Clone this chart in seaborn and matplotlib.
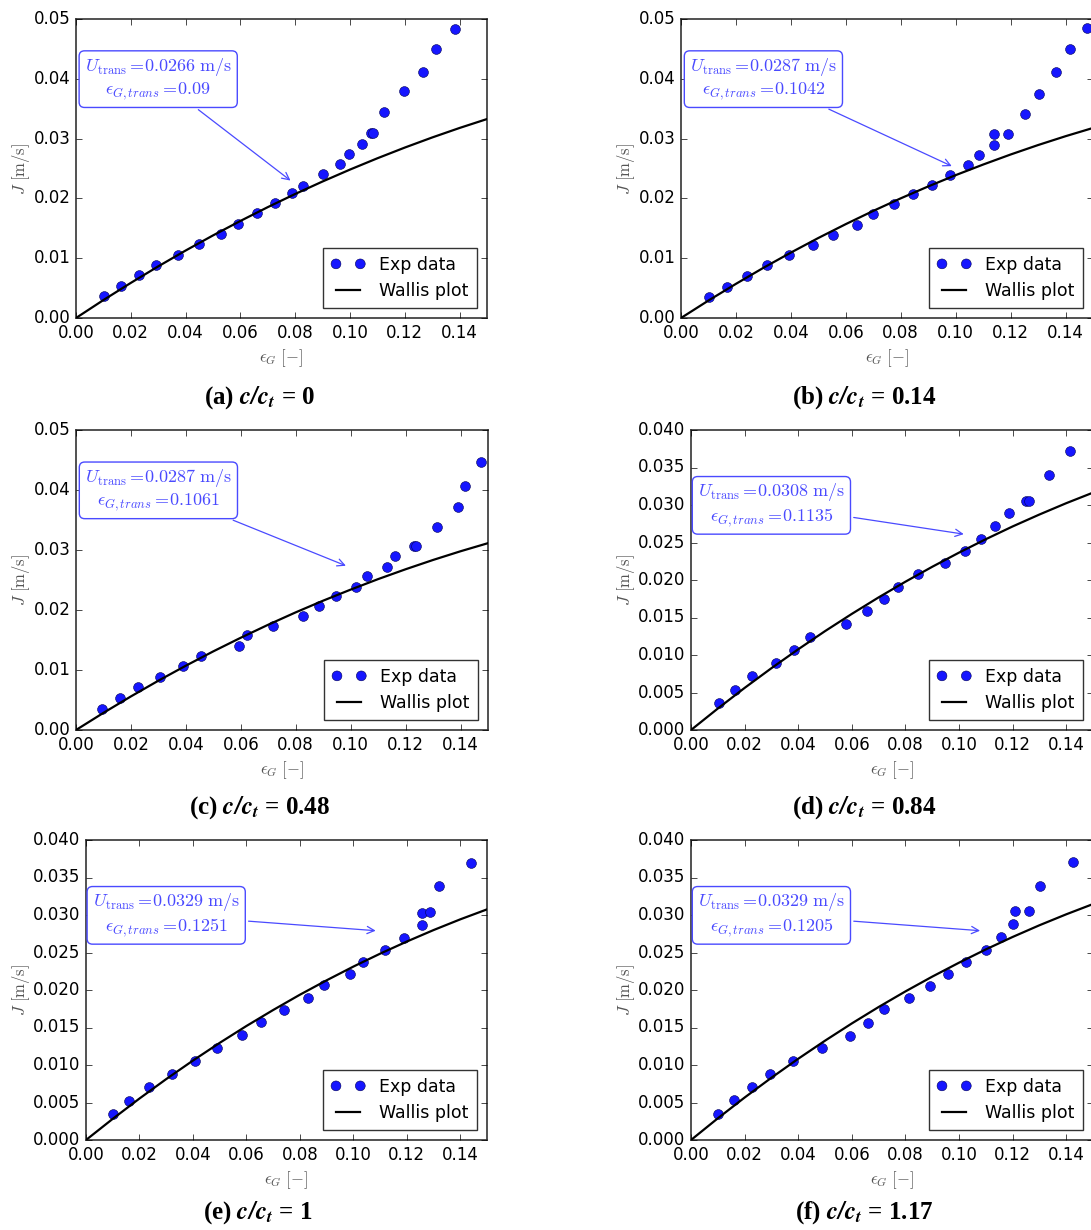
import numpy as np
import pandas as pd
import matplotlib
matplotlib.use("Agg")
import matplotlib.pyplot as plt
import seaborn as sns

plt.style.use("classic")
plt.rcParams["mathtext.fontset"] = "cm"
plt.rcParams["font.family"] = ["DejaVu Sans"]

# ---------------- data ----------------
panel_ids = ["a", "b", "c", "d", "e", "f"]
ratios = ["0", "0.14", "0.48", "0.84", "1", "1.17"]
u_trans = ["0.0266", "0.0287", "0.0287", "0.0308", "0.0329", "0.0329"]
eps_trans = ["0.09", "0.1042", "0.1061", "0.1135", "0.1251", "0.1205"]

eps_a = [0.0102, 0.0164, 0.0230, 0.0291, 0.0374, 0.0450, 0.0531, 0.0593, 0.0660, 0.0727,
         0.0790, 0.0830, 0.0901, 0.0963, 0.0996, 0.1045, 0.1076, 0.1083, 0.1124, 0.1196,
         0.1266, 0.1315, 0.1382]
j_a = [0.00362, 0.0054, 0.00718, 0.00885, 0.01058, 0.01236, 0.01403, 0.0157, 0.01754, 0.01927,
       0.02088, 0.02205, 0.02416, 0.02572, 0.02745, 0.02912, 0.0309, 0.0309, 0.0344, 0.0380,
       0.0412, 0.0449, 0.0483]

eps_b = [0.0102, 0.0166, 0.0242, 0.0313, 0.0393, 0.0481, 0.0553, 0.0639, 0.0698, 0.0776,
         0.0845, 0.0914, 0.0978, 0.1045, 0.1084, 0.1138, 0.1138, 0.1190, 0.1253, 0.1305,
         0.1367, 0.1418, 0.1479]
j_b = [0.00347, 0.00526, 0.00705, 0.00885, 0.01053, 0.0122, 0.01389, 0.01557, 0.01736, 0.01904,
       0.02066, 0.02223, 0.02396, 0.02553, 0.02727, 0.02895, 0.03074, 0.03074, 0.03415, 0.0374,
       0.04115, 0.0449, 0.0485]

eps_c = [0.0096, 0.0162, 0.0227, 0.0305, 0.0388, 0.0455, 0.0592, 0.0621, 0.0716, 0.0825,
         0.0885, 0.0947, 0.1021, 0.1060, 0.1134, 0.1163, 0.1229, 0.1239, 0.1315, 0.1391,
         0.1415, 0.1476]
j_c = [0.0035, 0.0054, 0.0071, 0.0089, 0.0106, 0.0124, 0.0140, 0.0159, 0.0174, 0.0190,
       0.0207, 0.0223, 0.0239, 0.0256, 0.0272, 0.0290, 0.0306, 0.0306, 0.0339, 0.0372,
       0.0407, 0.0446]

eps_d = [0.01055, 0.01649, 0.02294, 0.03154, 0.0384, 0.04444, 0.05786, 0.06584, 0.07219,
         0.07721, 0.08458, 0.09472, 0.1023, 0.10813, 0.11336, 0.11858, 0.12493, 0.12616,
         0.13373, 0.14131]
j_d = [0.00356, 0.00535, 0.00717, 0.00895, 0.01073, 0.01243, 0.01412, 0.01581, 0.01742, 0.01911,
       0.0208, 0.02223, 0.02388, 0.02552, 0.02726, 0.02895, 0.03056, 0.03056, 0.03394, 0.03724]

eps_e = [0.0101, 0.01625, 0.0236, 0.0321, 0.0408, 0.0491, 0.0585, 0.0653, 0.0740, 0.0831,
         0.0890, 0.0989, 0.1038, 0.1119, 0.1190, 0.1255, 0.1256, 0.1286, 0.1319, 0.1441]
j_e = [0.00352, 0.00526, 0.00704, 0.00886, 0.01051, 0.01229, 0.01399, 0.01568, 0.01733, 0.01893,
       0.02062, 0.02214, 0.02379, 0.0253, 0.02699, 0.02869, 0.03024, 0.03038, 0.03385, 0.03688]

eps_f = [0.0099, 0.01616, 0.0226, 0.02945, 0.0382, 0.0488, 0.0593, 0.0661, 0.0722, 0.0815,
         0.0892, 0.0959, 0.1027, 0.1101, 0.1156, 0.1203, 0.1210, 0.1260, 0.1301, 0.1424]
j_f = [0.00352, 0.0053, 0.00704, 0.00882, 0.0106, 0.01229, 0.0139, 0.01559, 0.01742, 0.01893,
       0.02049, 0.02214, 0.02379, 0.0253, 0.02704, 0.02878, 0.03047, 0.03047, 0.03385, 0.03702]

# Wallis curve read at eps = 0.00, 0.01, ..., 0.15
eps_wallis = [0.00, 0.01, 0.02, 0.03, 0.04, 0.05, 0.06, 0.07, 0.08, 0.09, 0.10, 0.11, 0.12,
              0.13, 0.14, 0.15]
wallis_a = [0.0, 0.00300, 0.00587, 0.00863, 0.01128, 0.01381, 0.01623, 0.01854, 0.02074,
            0.02283, 0.02482, 0.02671, 0.02850, 0.03019, 0.03178, 0.03327]
wallis_b = [0.0, 0.00292, 0.00571, 0.00839, 0.01094, 0.01338, 0.01570, 0.01791, 0.02001,
            0.02200, 0.02389, 0.02566, 0.02734, 0.02892, 0.03040, 0.03178]
wallis_c = [0.0, 0.00286, 0.00560, 0.00822, 0.01072, 0.01311, 0.01538, 0.01755, 0.01961,
            0.02156, 0.02340, 0.02515, 0.02679, 0.02834, 0.02979, 0.03114]
wallis_d = [0.0, 0.00286, 0.00561, 0.00824, 0.01076, 0.01318, 0.01548, 0.01768, 0.01977,
            0.02176, 0.02365, 0.02544, 0.02714, 0.02873, 0.03024, 0.03165]
wallis_e = [0.0, 0.00282, 0.00553, 0.00812, 0.01059, 0.01295, 0.01520, 0.01733, 0.01937,
            0.02129, 0.02312, 0.02484, 0.02646, 0.02799, 0.02942, 0.03075]
wallis_f = [0.0, 0.00289, 0.00566, 0.00830, 0.01083, 0.01324, 0.01554, 0.01773, 0.01981,
            0.02178, 0.02364, 0.02541, 0.02707, 0.02863, 0.03009, 0.03146]

# arrow tips (data coordinates)
arrow_x = [0.0791, 0.0995, 0.0992, 0.1028, 0.1094, 0.1089]
arrow_y = [0.0227, 0.0252, 0.0272, 0.02606, 0.02788, 0.02788]

x_ticks = [0.00, 0.02, 0.04, 0.06, 0.08, 0.10, 0.12, 0.14]
y_ticks_hi = [0.00, 0.01, 0.02, 0.03, 0.04, 0.05]
y_ticks_lo = [0.000, 0.005, 0.010, 0.015, 0.020, 0.025, 0.030, 0.035, 0.040]

exp_eps = [eps_a, eps_b, eps_c, eps_d, eps_e, eps_f]
exp_j = [j_a, j_b, j_c, j_d, j_e, j_f]
wallis = [wallis_a, wallis_b, wallis_c, wallis_d, wallis_e, wallis_f]

# ---------------- layout ----------------
W, H = 1091, 1230
fig = plt.figure(figsize=(W / 100, H / 100), dpi=100, facecolor="white")

# pixel boxes: left, top, right, bottom
boxes = [(76, 19, 487, 318), (681, 19, 1093, 318),
         (76, 430, 488, 730), (691, 430, 1093, 730),
         (86, 840, 487, 1140), (691, 840, 1093, 1140)]
text_pos = [(0.2, 0.80), (0.2, 0.80), (0.2, 0.80), (0.2, 0.75), (0.2, 0.75), (0.2, 0.75)]
caption_xy = [(260, 398), (864, 398), (260, 808), (864, 808), (258, 1213), (864, 1213)]

blue_dot = "#1616ff"
annot_blue = "#4a4aff"

for i in range(6):
    l, t, r, b = boxes[i]
    ax = fig.add_axes([l / W, 1 - b / H, (r - l) / W, (b - t) / H])
    ax.set_facecolor("white")

    df = pd.DataFrame({"eps": exp_eps[i], "J": exp_j[i]})
    dw = pd.DataFrame({"eps": eps_wallis, "J": wallis[i]})

    sns.scatterplot(data=df, x="eps", y="J", ax=ax, color=blue_dot, s=50,
                    edgecolor="#000055", linewidth=0.4, zorder=3, label="Exp data")
    sns.lineplot(data=dw, x="eps", y="J", ax=ax, color="black", linewidth=1.6,
                 zorder=4, label="Wallis plot", sort=False, estimator=None)

    ax.set_xlim(0, 0.15)
    ax.set_xticks(x_ticks)
    ax.set_xticklabels([f"{v:.2f}" for v in x_ticks])
    if i < 3:
        ax.set_ylim(0, 0.05)
        ax.set_yticks(y_ticks_hi)
        ax.set_yticklabels([f"{v:.2f}" for v in y_ticks_hi])
    else:
        ax.set_ylim(0, 0.04)
        ax.set_yticks(y_ticks_lo)
        ax.set_yticklabels([f"{v:.3f}" for v in y_ticks_lo])

    ax.tick_params(axis="both", which="major", labelsize=12, direction="in",
                   length=4, top=True, right=True, pad=4)
    ax.minorticks_off()
    for sp in ax.spines.values():
        sp.set_color("#333333")
        sp.set_linewidth(1.2)

    ax.set_xlabel(r"$\epsilon_G\ [-]$", fontsize=12, color="#555555", labelpad=4)
    ax.set_ylabel(r"$J\ [\mathrm{m/s}]$", fontsize=12, color="#555555", labelpad=1)

    handles, labels = ax.get_legend_handles_labels()
    leg = ax.legend(handles, labels, loc="lower right", fontsize=12.5, numpoints=2,
                    scatterpoints=2, scatteryoffsets=[0.5], fancybox=False,
                    frameon=True, borderaxespad=0.6, handlelength=2.0,
                    borderpad=0.45, labelspacing=0.45)
    leg.get_frame().set_edgecolor("#333333")
    leg.get_frame().set_linewidth(1.0)

    txt = (r"$U_{\mathrm{trans}}=\!" + u_trans[i] + r"\ \mathrm{m/s}$" + "\n"
           + r"$\epsilon_{G,trans}=\!" + eps_trans[i] + r"$")
    ax.annotate(txt, xy=(arrow_x[i], arrow_y[i]), xycoords="data",
                xytext=text_pos[i], textcoords="axes fraction",
                ha="center", va="center", fontsize=13, color=annot_blue,
                bbox=dict(boxstyle="round,pad=0.3", fc="white", ec=annot_blue, lw=1.0),
                arrowprops=dict(arrowstyle="->", color=annot_blue, lw=0.9),
                zorder=6)

    cx, cy = caption_xy[i]
    fig.text(cx / W, 1 - cy / H,
             "(" + panel_ids[i] + r") $\mathbfit{c/c}_{\mathbfit{t}}$ = " + ratios[i],
             ha="center", va="center", fontsize=18, fontweight="bold",
             family="Liberation Serif", math_fontfamily="stix")

fig.savefig("out.png", dpi=100, facecolor="white")
